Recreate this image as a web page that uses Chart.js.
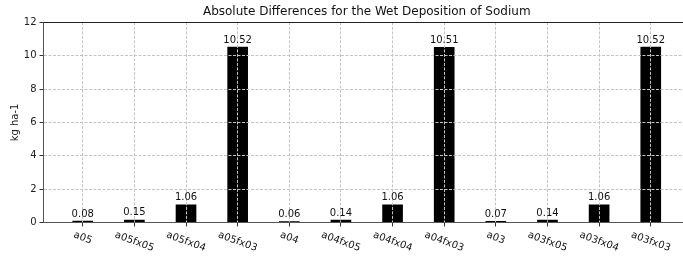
<!DOCTYPE html>
<html>
<head>
<meta charset="utf-8">
<script src="https://cdn.jsdelivr.net/npm/chart.js@4/dist/chart.umd.min.js"></script>
<style>
  html, body { margin: 0; padding: 0; background: #fff; overflow: hidden; }
  #wrap { width: 692px; height: 263px; }
</style>
</head>
<body>
<div id="wrap"><canvas id="diffChart" width="692" height="263"></canvas></div>
<script>
// Chart data
const categories = ['a05', 'a05fx05', 'a05fx04', 'a05fx03', 'a04', 'a04fx05', 'a04fx04', 'a04fx03', 'a03', 'a03fx05', 'a03fx04', 'a03fx03'];
const values = [0.08, 0.15, 1.06, 10.52, 0.06, 0.14, 1.06, 10.51, 0.07, 0.14, 1.06, 10.52];
const yTicks = [0, 2, 4, 6, 8, 10, 12];

const FONT = "'DejaVu Sans', sans-serif";
// grid sits above the bars, like the original
const gridStyle = {
    z: 1,
    offset: false,
    color: '#c4c4c4',
    lineWidth: 1,
    tickColor: '#333',
    tickLength: 4,
    tickWidth: 1,
    tickBorderDash: []
};
const borderStyle = { z: 2, display: true, color: '#555', width: 1, dash: [3, 1.5] };

// draws rotated category labels, bar value labels and the top spine
const annotate = {
    id: 'annotate',
    afterDraw(chart) {
        const ctx = chart.ctx;
        const area = chart.chartArea;
        const xScale = chart.scales.x;
        const meta = chart.getDatasetMeta(0);

        ctx.save();
        // top spine
        ctx.strokeStyle = '#222';
        ctx.lineWidth = 1;
        ctx.beginPath();
        ctx.moveTo(area.left, Math.round(area.top) + 0.5);
        ctx.lineTo(area.right, Math.round(area.top) + 0.5);
        ctx.stroke();

        // values above bars
        ctx.font = '10px ' + FONT;
        ctx.fillStyle = '#111';
        ctx.textAlign = 'center';
        ctx.textBaseline = 'alphabetic';
        meta.data.forEach((bar, i) => {
            ctx.fillText(values[i].toFixed(2), bar.x, bar.y - 4.5);
        });

        // category labels, rotated clockwise
        const ang = 20 * Math.PI / 180;
        const top = area.bottom + 7;
        categories.forEach((label, i) => {
            const x = xScale.getPixelForValue(i);
            const w = ctx.measureText(label).width;
            const h = w * Math.sin(ang) + 11 * Math.cos(ang);
            ctx.save();
            ctx.translate(x, top + h / 2);
            ctx.rotate(ang);
            ctx.textBaseline = 'middle';
            ctx.fillText(label, 0, 0);
            ctx.restore();
        });
        ctx.restore();
    }
};

new Chart(document.getElementById('diffChart'), {
    type: 'bar',
    data: {
        datasets: [{
            data: values.map((v, i) => ({ x: i, y: v })),
            backgroundColor: '#000',
            borderWidth: 0,
            barThickness: 20
        }]
    },
    options: {
        responsive: false,
        animation: false,
        layout: { padding: { left: 0, right: 2, top: 0, bottom: 0 } },
        plugins: {
            legend: { display: false },
            tooltip: { enabled: false },
            title: {
                display: true,
                text: 'Absolute Differences for the Wet Deposition of Sodium',
                fullSize: false,
                color: '#111',
                font: { family: FONT, size: 12, weight: 'normal' },
                padding: { top: 5, bottom: 3 }
            }
        },
        scales: {
            x: {
                type: 'linear',
                min: -0.76,
                max: 11.76,
                offset: false,
                afterBuildTicks: (scale) => { scale.ticks = categories.map((c, i) => ({ value: i })); },
                afterFit: (scale) => { scale.height = 40.5; },
                ticks: { display: false },
                grid: Object.assign({}, gridStyle),
                border: Object.assign({}, borderStyle)
            },
            y: {
                min: 0,
                max: 12,
                afterBuildTicks: (scale) => { scale.ticks = yTicks.map(v => ({ value: v })); },
                afterFit: (scale) => { scale.width = 43.5; },
                ticks: {
                    color: '#222',
                    padding: 3,
                    font: { family: FONT, size: 10 }
                },
                grid: Object.assign({}, gridStyle),
                border: Object.assign({}, borderStyle),
                title: {
                    display: true,
                    text: 'kg ha-1',
                    color: '#222',
                    font: { family: FONT, size: 10 },
                    padding: { top: 9, bottom: 0 }
                }
            }
        }
    },
    plugins: [annotate]
});
</script>
</body>
</html>
